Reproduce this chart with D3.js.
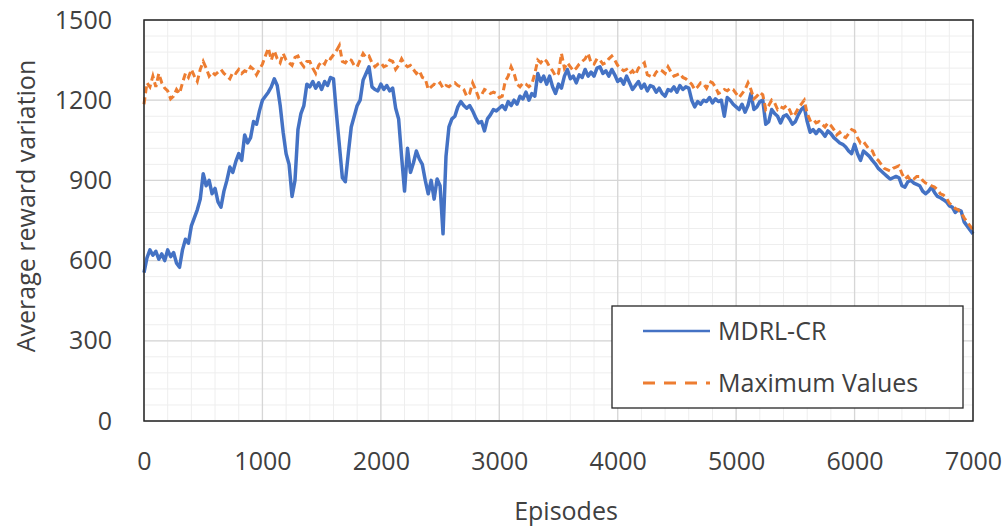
<!DOCTYPE html>
<html>
<head>
<meta charset="utf-8">
<script src="https://cdn.jsdelivr.net/npm/d3@7"></script>
<style>
  body { margin: 0; background: #fff; }
  text { font-family: "Open Sans", "Noto Sans", sans-serif; fill: #404040; }
</style>
</head>
<body>
<div id="chart"></div>
<script>
// reward.js

const width = 1007;
const height = 529;
const margin = { top: 20, right: 34, bottom: 108, left: 144 };

// episodes 0..7000, one value every 25 episodes
const step = 25;

const mdrlValues = [
    555, 610, 640, 620, 635, 605, 625, 600, 640, 615, 630, 590, 575, 640, 680, 665, 730, 760, 790, 830,
    925, 880, 900, 850, 870, 820, 800, 860, 900, 950, 930, 970, 1000, 975, 1070, 1040, 1060, 1120, 1110, 1160,
    1200, 1215, 1230, 1250, 1280, 1255, 1180, 1080, 1000, 960, 840, 900, 1090, 1150, 1180, 1260, 1250, 1270, 1245, 1265,
    1240, 1270, 1255, 1285, 1280, 1150, 1030, 910, 895, 1000, 1100, 1140, 1180, 1200, 1275, 1300, 1325, 1250, 1240, 1235,
    1260, 1240, 1255, 1235, 1245, 1170, 1130, 990, 860, 1020, 930, 965, 1010, 980, 960, 900, 850, 900, 830, 905,
    880, 700, 990, 1100, 1130, 1140, 1175, 1195, 1180, 1170, 1180, 1160, 1135, 1115, 1120, 1085, 1130, 1145, 1165, 1160,
    1170, 1180, 1165, 1195, 1180, 1200, 1185, 1215, 1205, 1230, 1200, 1225, 1215, 1300, 1270, 1290, 1260, 1290, 1250, 1225,
    1260, 1245, 1290, 1315, 1280, 1290, 1265, 1295, 1285, 1315, 1290, 1305, 1290, 1320, 1325, 1300, 1310, 1290, 1315, 1295,
    1270, 1280, 1260, 1290, 1265, 1240, 1255, 1270, 1245, 1260, 1235, 1255, 1250, 1230, 1245, 1225, 1215, 1240, 1235, 1250,
    1230, 1255, 1240, 1250, 1245, 1200, 1175, 1195, 1185, 1200, 1195, 1210, 1190, 1205, 1195, 1200, 1140, 1210, 1200, 1185,
    1175, 1165, 1185, 1155, 1180, 1225, 1165, 1175, 1195, 1200, 1110, 1120, 1165, 1150, 1140, 1115, 1140, 1145, 1130, 1110,
    1120, 1145, 1165, 1175, 1120, 1080, 1090, 1075, 1090, 1080, 1065, 1085, 1075, 1060, 1050, 1040, 1035, 1025, 1010, 1000,
    1035, 1000, 975, 1010, 1000, 990, 975, 962, 945, 935, 925, 915, 905, 910, 915, 910, 880, 875, 895, 900,
    890, 885, 880, 860, 850, 860, 875, 855, 840, 835, 828, 820, 805, 800, 780, 790, 785, 745, 730, 715,
    700
];

const maxValues = [
    1185, 1265, 1250, 1290, 1250, 1300, 1265, 1245, 1235, 1205, 1215, 1240, 1225, 1265, 1300, 1285, 1315, 1290, 1270, 1315,
    1345, 1320, 1290, 1305, 1295, 1305, 1315, 1300, 1290, 1280, 1305, 1300, 1315, 1300, 1310, 1305, 1325, 1315, 1295, 1315,
    1335, 1365, 1395, 1350, 1385, 1355, 1340, 1375, 1350, 1340, 1330, 1360, 1365, 1340, 1325, 1345, 1345, 1320, 1300, 1330,
    1345, 1335, 1360, 1355, 1370, 1385, 1405, 1345, 1340, 1355, 1350, 1330, 1325, 1350, 1375, 1360, 1365, 1340, 1325, 1335,
    1340, 1325, 1330, 1350, 1345, 1315, 1330, 1355, 1335, 1325, 1330, 1315, 1300, 1310, 1285, 1280, 1240, 1250, 1260, 1255,
    1265, 1245, 1255, 1250, 1260, 1265, 1255, 1250, 1240, 1215, 1225, 1265, 1240, 1210, 1220, 1240, 1235, 1225, 1230, 1225,
    1210, 1215, 1270, 1290, 1325, 1300, 1260, 1250, 1265, 1260, 1250, 1260, 1300, 1350, 1340, 1355, 1345, 1325, 1310, 1290,
    1300, 1375, 1320, 1340, 1325, 1310, 1320, 1335, 1345, 1355, 1375, 1340, 1335, 1355, 1350, 1335, 1340, 1355, 1365, 1350,
    1330, 1320, 1310, 1315, 1300, 1310, 1295, 1320, 1330, 1340, 1295, 1290, 1285, 1305, 1315, 1310, 1300, 1325, 1305, 1290,
    1295, 1300, 1285, 1280, 1270, 1260, 1240, 1250, 1265, 1260, 1245, 1270, 1265, 1250, 1225, 1230, 1240, 1235, 1245, 1240,
    1225, 1210, 1225, 1240, 1265, 1240, 1205, 1215, 1230, 1220, 1165, 1180, 1200, 1190, 1165, 1175, 1170, 1180, 1165, 1140,
    1150, 1170, 1185, 1200, 1150, 1125, 1130, 1115, 1120, 1110, 1100, 1115, 1105, 1090, 1070, 1080, 1065, 1060, 1075, 1090,
    1085, 1060, 1040, 1045, 1030, 1015, 1010, 985, 975, 960, 945, 940, 935, 945, 950, 955, 925, 905, 915, 900,
    905, 915, 915, 900, 890, 885, 880, 875, 865, 850, 845, 835, 815, 805, 795, 790, 780, 760, 745, 730,
    715
];

const xTicks = [0, 1000, 2000, 3000, 4000, 5000, 6000, 7000];
const yTicks = [0, 300, 600, 900, 1200, 1500];
const seriesNames = ["MDRL-CR", "Maximum Values"];
const seriesColors = ["#4472C4", "#ED7D31"];

const svg = d3.select("#chart")
    .append("svg")
    .attr("width", width)
    .attr("height", height);

const x = d3.scaleLinear()
    .domain([0, 7000])
    .range([margin.left, width - margin.right]);

const y = d3.scaleLinear()
    .domain([0, 1500])
    .range([height - margin.bottom, margin.top]);

// grid: minor first, then major
const grid = svg.append("g");

grid.selectAll(".vminor")
    .data(d3.range(0, 7001, 200))
    .join("line")
    .attr("x1", d => x(d)).attr("x2", d => x(d))
    .attr("y1", y(0)).attr("y2", y(1500))
    .attr("stroke", "#eeeeee")
    .attr("stroke-width", 1);

grid.selectAll(".hminor")
    .data(d3.range(0, 1501, 60))
    .join("line")
    .attr("x1", x(0)).attr("x2", x(7000))
    .attr("y1", d => y(d)).attr("y2", d => y(d))
    .attr("stroke", "#eeeeee")
    .attr("stroke-width", 1);

grid.selectAll(".vmajor")
    .data(xTicks)
    .join("line")
    .attr("x1", d => x(d)).attr("x2", d => x(d))
    .attr("y1", y(0)).attr("y2", y(1500))
    .attr("stroke", "#d6d6d6")
    .attr("stroke-width", 1.3);

grid.selectAll(".hmajor")
    .data(yTicks)
    .join("line")
    .attr("x1", x(0)).attr("x2", x(7000))
    .attr("y1", d => y(d)).attr("y2", d => y(d))
    .attr("stroke", "#d6d6d6")
    .attr("stroke-width", 1.3);

// lines
const line = d3.line()
    .x((d, i) => x(i * step))
    .y(d => y(d));

svg.append("path")
    .datum(mdrlValues)
    .attr("fill", "none")
    .attr("stroke", seriesColors[0])
    .attr("stroke-width", 3.5)
    .attr("stroke-linejoin", "round")
    .attr("d", line);

svg.append("path")
    .datum(maxValues)
    .attr("fill", "none")
    .attr("stroke", seriesColors[1])
    .attr("stroke-width", 3)
    .attr("stroke-dasharray", "7,4")
    .attr("d", line);

// plot frame
svg.append("rect")
    .attr("x", x(0))
    .attr("y", y(1500))
    .attr("width", x(7000) - x(0))
    .attr("height", y(0) - y(1500))
    .attr("fill", "none")
    .attr("stroke", "#262626")
    .attr("stroke-width", 1.5);

// axes
const yAxis = svg.append("g")
    .attr("transform", `translate(${x(0)},0)`)
    .call(d3.axisLeft(y).tickValues(yTicks).tickSize(0).tickPadding(32).tickFormat(d3.format("d")));

const xAxis = svg.append("g")
    .attr("transform", `translate(0,${y(0)})`)
    .call(d3.axisBottom(x).tickValues(xTicks).tickSize(0).tickFormat(d3.format("d")));

[yAxis, xAxis].forEach(a => {
    a.select(".domain").remove();
    a.selectAll("text")
        .attr("font-family", "'Open Sans', sans-serif")
        .attr("font-size", "25px")
        .attr("fill", "#404040");
});

xAxis.selectAll("text")
    .attr("y", 40)
    .attr("dy", "0.35em");

// axis titles
svg.append("text")
    .attr("x", 566)
    .attr("y", 511)
    .attr("dy", "0.35em")
    .attr("text-anchor", "middle")
    .attr("font-size", "25px")
    .text("Episodes");

svg.append("text")
    .attr("transform", "translate(26,206) rotate(-90)")
    .attr("dy", "0.35em")
    .attr("text-anchor", "middle")
    .attr("font-size", "25px")
    .text("Average reward variation");

// legend
const legend = svg.append("g");

legend.append("rect")
    .attr("x", 612)
    .attr("y", 306)
    .attr("width", 351)
    .attr("height", 102)
    .attr("fill", "#fff")
    .attr("stroke", "#262626")
    .attr("stroke-width", 1.3);

seriesNames.forEach((name, i) => {
    const ly = 331 + i * 52;
    legend.append("line")
        .attr("x1", 643).attr("x2", 710)
        .attr("y1", ly).attr("y2", ly)
        .attr("stroke", seriesColors[i])
        .attr("stroke-width", i === 0 ? 2.6 : 3)
        .attr("stroke-dasharray", i === 0 ? null : "12,9");
    legend.append("text")
        .attr("x", 718)
        .attr("y", ly)
        .attr("dy", "0.35em")
        .attr("font-size", "25px")
        .attr("fill", "#1a1a1a")
        .text(name);
});
</script>
</body>
</html>
